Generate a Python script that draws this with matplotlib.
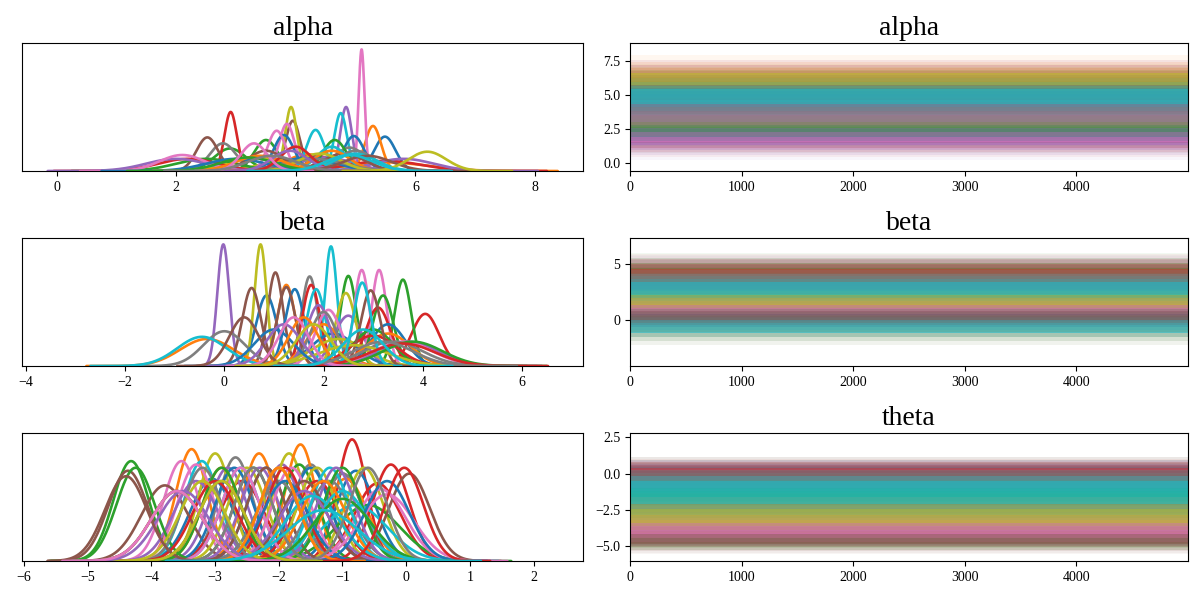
import numpy as np
import matplotlib
matplotlib.use("Agg")
import matplotlib.pyplot as plt

plt.rcParams['font.family'] = ['Liberation Serif', 'DejaVu Serif']
plt.rcParams['axes.unicode_minus'] = True

# ---------------- data (per-coordinate posterior location / spread)
# coordinates are listed in order; coordinate i gets colour i % 10 of the tab10 cycle
alpha_mean = [5.49, 5.29, 2.90, 2.91, 4.84, 3.95, 5.10, 2.78, 3.92, 4.75,
              4.97, 4.20, 3.50, 4.30, 4.50, 2.52, 3.85, 4.90, 4.00, 4.33,
              3.80, 5.50, 4.65, 5.50, 5.80, 4.80, 3.68, 5.00, 3.30, 4.60,
              4.20, 4.60, 2.50, 2.20, 2.00, 3.50, 2.10, 4.30, 4.40, 5.00,
              3.00, 3.40, 3.20, 4.00, 3.90, 5.20, 3.30, 3.60, 6.20, 4.90]
alpha_sd = [0.177, 0.135, 0.27, 0.103, 0.095, 0.121, 0.05, 0.22, 0.095, 0.105,
            0.174, 0.365, 0.196, 0.40, 0.45, 0.181, 0.129, 0.26, 0.52, 0.148,
            0.169, 0.70, 0.196, 0.60, 0.50, 0.35, 0.151, 0.30, 0.45, 0.25,
            0.45, 0.30, 0.50, 0.50, 0.50, 0.30, 0.38, 0.50, 0.35, 0.35,
            0.50, 0.40, 0.45, 0.25, 0.30, 0.40, 0.22, 0.40, 0.315, 0.38]

beta_mean = [0.85, 1.25, 2.50, 4.05, -0.02, 1.03, 2.77, 1.72, 0.73, 2.15,
             1.42, -0.35, 3.60, 1.75, 2.50, 0.55, 3.12, 0.00, 2.45, 1.85,
             2.20, 2.00, 3.20, 3.10, 1.90, 1.25, 2.10, 2.00, 2.30, -0.45,
             3.30, 3.30, 3.00, 3.00, 3.70, 2.95, 3.60, 3.40, 2.60, 2.78,
             1.00, 1.60, 3.80, 3.60, 1.20, 0.40, 1.40, 3.20, 1.80, 2.80]
beta_sd = [0.207, 0.18, 0.162, 0.28, 0.12, 0.156, 0.152, 0.163, 0.12, 0.122,
           0.19, 0.54, 0.169, 0.18, 0.29, 0.187, 0.152, 0.42, 0.20, 0.19,
           0.45, 0.35, 0.207, 0.25, 0.24, 0.185, 0.26, 0.27, 0.54, 0.50,
           0.35, 0.45, 0.40, 0.48, 0.60, 0.193, 0.60, 0.60, 0.70, 0.175,
           0.40, 0.30, 0.60, 0.65, 0.35, 0.30, 0.30, 0.60, 0.35, 0.40]

theta_mean = [-3.05, -3.37, -4.32, -0.85, -1.95, -4.37, -3.53, -2.68, -3.00, -3.21,
              -0.79, -2.31, -2.40, -2.58, -2.80, -3.79, -3.30, -1.50, -1.84, -2.00,
              -2.20, -1.66, -1.68, -0.45, -3.30, -1.00, -2.00, -1.00, -0.66, -2.60,
              -1.50, -0.95, -0.60, -0.24, -3.60, 0.05, -0.40, -2.00, -2.50, -0.80,
              -2.70, -2.90, -4.25, -1.40, -2.30, -2.20, -1.80, -1.20, -1.40, -1.20,
              -3.60, -3.60, -1.00, -1.90, -1.10, -1.60, -2.60, -3.20, -2.00, -1.00,
              -1.90, -1.30, -2.90, -3.00, -1.60, -2.90, -0.30, -2.40, -3.20, -1.47,
              -0.30, -2.00, -1.00, -0.03, -3.50, -4.40, -3.60, -0.60, -2.90, -1.30]
theta_sd = [0.34, 0.25, 0.28, 0.23, 0.29, 0.31, 0.28, 0.27, 0.26, 0.28,
            0.31, 0.26, 0.30, 0.35, 0.30, 0.37, 0.29, 0.29, 0.26, 0.35,
            0.30, 0.24, 0.29, 0.36, 0.35, 0.32, 0.30, 0.32, 0.30, 0.30,
            0.30, 0.34, 0.50, 0.29, 0.40, 0.32, 0.39, 0.35, 0.30, 0.50,
            0.30, 0.30, 0.30, 0.35, 0.30, 0.30, 0.30, 0.35, 0.30, 0.30,
            0.40, 0.40, 0.30, 0.30, 0.30, 0.35, 0.30, 0.30, 0.30, 0.40,
            0.35, 0.35, 0.30, 0.35, 0.40, 0.35, 0.42, 0.30, 0.35, 0.43,
            0.35, 0.30, 0.45, 0.30, 0.40, 0.33, 0.40, 0.30, 0.35, 0.55]

var_names = ["alpha", "beta", "theta"]
sample_range = {"alpha": (-0.15, 8.38), "beta": (-3.56, 6.72), "theta": (-5.63, 2.38)}
n_draws = 5000

dens_xticks = {"alpha": [0, 2, 4, 6, 8], "beta": [-4, -2, 0, 2, 4, 6],
               "theta": [-6, -5, -4, -3, -2, -1, 0, 1, 2]}
trace_yticks = {"alpha": [0, 2.5, 5, 7.5], "beta": [0, 5], "theta": [-5, -2.5, 0, 2.5]}
trace_yticklabels = {"alpha": ["0.0", "2.5", "5.0", "7.5"], "beta": ["0", "5"],
                     "theta": ["\u22125.0", "\u22122.5", "0.0", "2.5"]}
trace_xticks = [0, 1000, 2000, 3000, 4000]

params = {"alpha": (alpha_mean, alpha_sd), "beta": (beta_mean, beta_sd),
          "theta": (theta_mean, theta_sd)}

# ---------------- figure
colors = plt.rcParams['axes.prop_cycle'].by_key()['color']
fig = plt.figure(figsize=(12, 6), dpi=100)

rows_bottom = [0.715, 0.390, 0.065]
row_h = 0.2128
left_x, left_w = 0.0185, 0.4675
right_x, right_w = 0.525, 0.465
# (half-width in sd units, opacity) of the stacked trace bands
band_levels = [(3.5, 0.06), (2.8, 0.12), (2.1, 0.22), (1.4, 0.5)]

for r, name in enumerate(var_names):
    means, sds = params[name]
    lo, hi = sample_range[name]
    pad = 0.05 * (hi - lo)

    axd = fig.add_axes([left_x, rows_bottom[r], left_w, row_h])
    axt = fig.add_axes([right_x, rows_bottom[r], right_w, row_h])

    peak = 0
    for i, (m, s) in enumerate(zip(means, sds)):
        c = colors[i % 10]
        x = np.linspace(max(lo, m - 4.5 * s), min(hi, m + 4.5 * s), 300)
        pdf = np.exp(-0.5 * ((x - m) / s) ** 2) / (s * np.sqrt(2 * np.pi))
        peak = max(peak, pdf.max())
        axd.plot(x, pdf, color=c, lw=1.9, solid_capstyle='round')

        for k, a in band_levels:
            axt.fill_between([0, n_draws - 1], m - k * s, m + k * s,
                             color=c, alpha=a, lw=0)

    axd.set_xlim(lo - pad, hi + pad)
    axd.set_ylim(0, peak * 1.05)
    axd.set_yticks([])
    axd.set_xticks(dens_xticks[name])
    axd.set_title(name, fontsize=20)
    axd.tick_params(labelsize=10)

    axt.set_xlim(0, n_draws - 1)
    axt.set_ylim(lo - pad, hi + pad)
    axt.set_xticks(trace_xticks)
    axt.set_yticks(trace_yticks[name])
    axt.set_yticklabels(trace_yticklabels[name])
    axt.set_title(name, fontsize=20)
    axt.tick_params(labelsize=10)

fig.savefig("out.png", dpi=100)
